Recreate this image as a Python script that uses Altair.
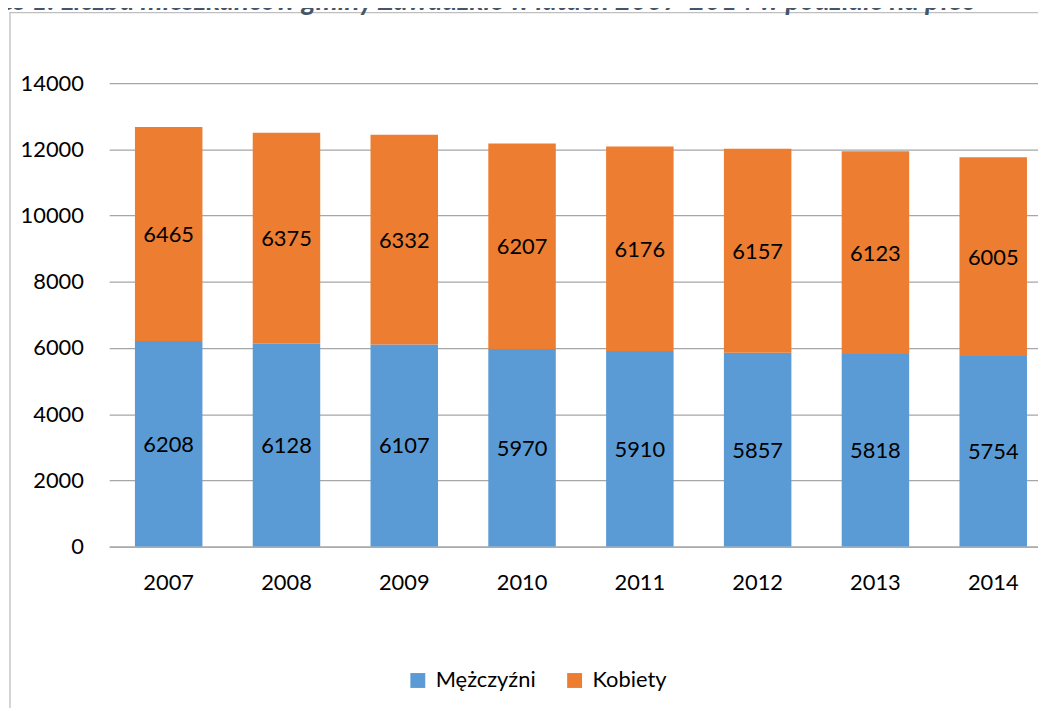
import altair as alt
import pandas as pd

years = ["2007", "2008", "2009", "2010", "2011", "2012", "2013", "2014"]
men = [6208, 6128, 6107, 5970, 5910, 5857, 5818, 5754]
women = [6465, 6375, 6332, 6207, 6176, 6157, 6123, 6005]
series = ["Mężczyźni", "Kobiety"]
colors = ["#5B9BD5", "#ED7D31"]
y_ticks = [0, 2000, 4000, 6000, 8000, 10000, 12000, 14000]
title_text = "Wykres 1. Liczba mieszkańców gminy Zawadzkie w latach 2007-2014 w podziale na płeć"

rows = []
for i, yr in enumerate(years):
    rows.append({"year": yr, "series": series[0], "value": men[i], "ord": 0})
    rows.append({"year": yr, "series": series[1], "value": women[i], "ord": 1})
df = pd.DataFrame(rows)

FONT = "Lato"

x_enc = alt.X(
    "year:N",
    sort=years,
    scale=alt.Scale(paddingInner=0.427, paddingOuter=0.156, align=0.70),
    axis=alt.Axis(
        title=None, labelAngle=0, ticks=False, domain=True, domainColor="#A6A6A6",
        domainWidth=1.3, labelFontSize=22, labelFont=FONT, labelColor="#000000",
        labelPadding=26, grid=False,
    ),
)

base = alt.Chart(df)

bars = base.mark_bar().encode(
    x=x_enc,
    y=alt.Y(
        "value:Q",
        stack="zero",
        scale=alt.Scale(domain=[0, 14000], nice=False),
        axis=alt.Axis(
            title=None, values=y_ticks, ticks=False, domain=False, grid=True,
            gridColor="#A6A6A6", gridWidth=1.3, labelFontSize=22, labelFont=FONT,
            labelColor="#000000", labelPadding=26, format="d",
        ),
    ),
    color=alt.Color(
        "series:N",
        scale=alt.Scale(domain=series, range=colors),
        legend=alt.Legend(
            title=None, orient="none", legendX=300, legendY=591,
            direction="horizontal", symbolType="square", symbolSize=225,
            symbolStrokeWidth=0, labelFontSize=22, labelFont=FONT,
            labelColor="#000000", labelOffset=7, columnPadding=28,
        ),
    ),
    order=alt.Order("ord:Q"),
)

labels = base.transform_stack(
    stack="value", groupby=["year"], as_=["v0", "v1"], sort=[alt.SortField("ord")]
).transform_calculate(
    mid="(datum.v0 + datum.v1) / 2"
).mark_text(fontSize=22, font=FONT, color="#000000", baseline="middle", dy=1).encode(
    x=alt.X("year:N", sort=years),
    y=alt.Y("mid:Q"),
    text=alt.Text("value:Q", format="d"),
)

border = alt.Chart(pd.DataFrame({"a": [0]})).mark_rect(
    fill=None, stroke="#BFBFBF", strokeWidth=1.3
).encode(
    x=alt.value(-100), x2=alt.value(3000), y=alt.value(-71), y2=alt.value(3000)
)

title = alt.Chart(pd.DataFrame({"t": [title_text]})).mark_text(
    fontSize=28, font=FONT, fontStyle="italic", fontWeight="bold", color="#44546A",
    align="right", baseline="alphabetic",
).encode(
    x=alt.value(872), y=alt.value(-74), text="t:N"
)

chart = alt.layer(border, bars, labels, title).properties(
    width=936,
    height=467,
    padding={"left": 102, "top": 73, "right": 0, "bottom": 160},
    autosize=alt.AutoSizeParams(type="none"),
    background="#FFFFFF",
).configure_view(stroke=None)

chart.save("out.html", embed_options={"renderer": "svg", "actions": False})
